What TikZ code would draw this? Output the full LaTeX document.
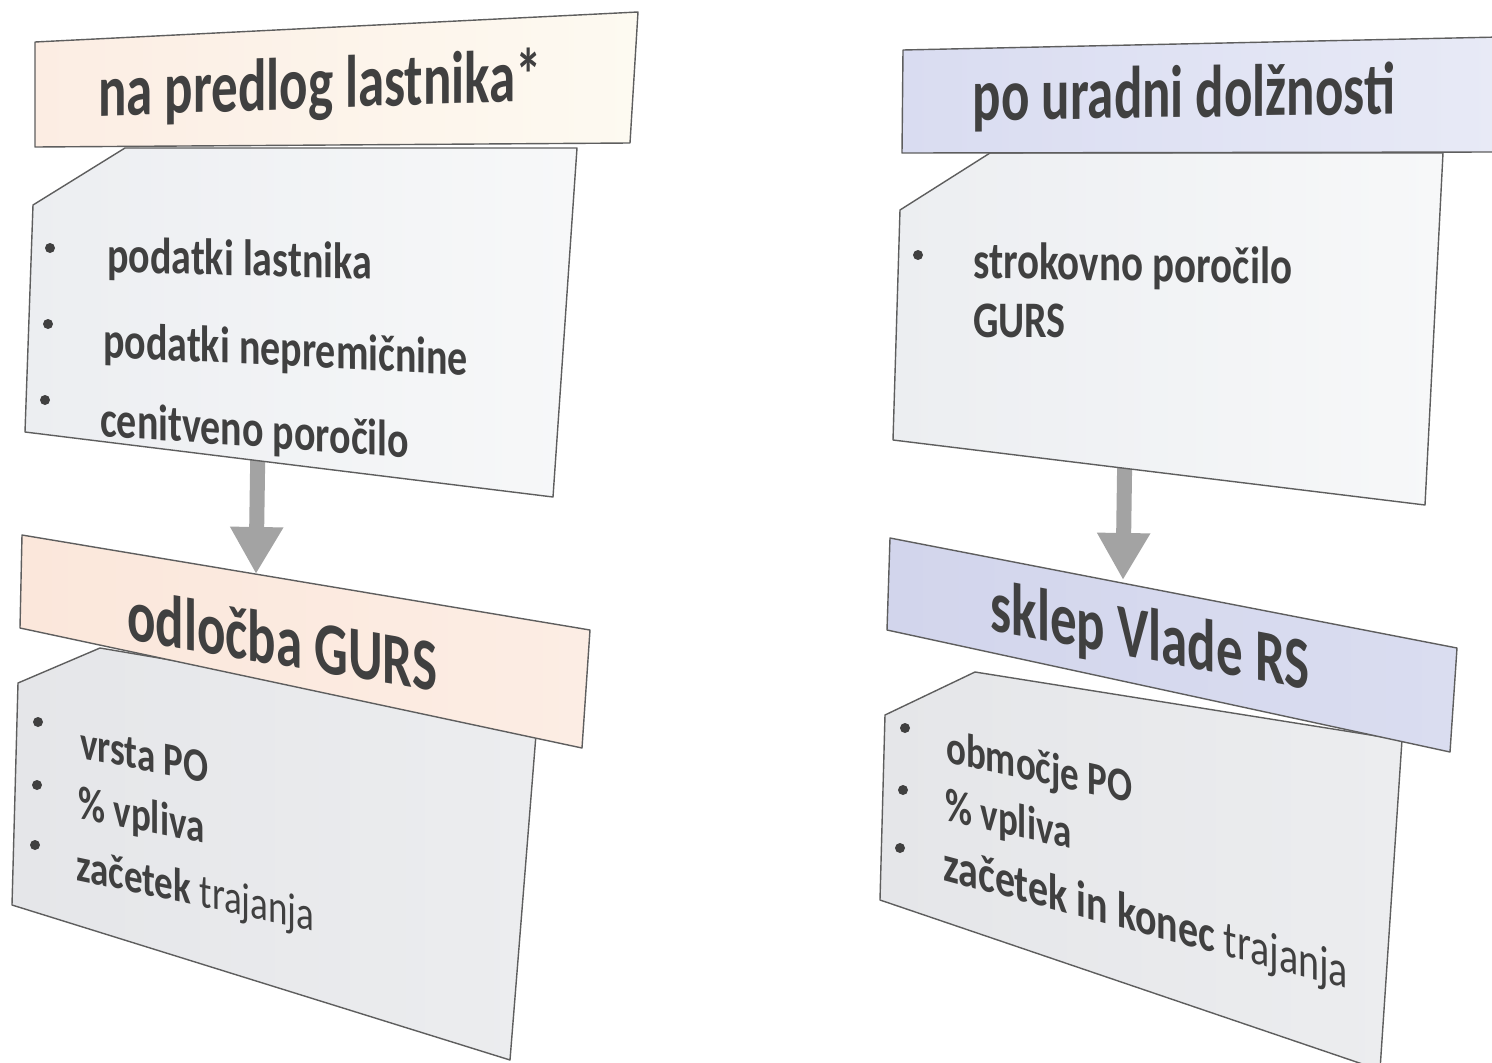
\documentclass[tikz,border=0pt]{standalone}
\usepackage{fontspec}
\setmainfont{Carlito}
\usetikzlibrary{arrows.meta}
\definecolor{txt}{HTML}{404040}
\definecolor{edge}{HTML}{5E5E5E}
\definecolor{arrowgray}{HTML}{A3A3A3}
\definecolor{bodyA}{HTML}{ECEEF1}
\definecolor{bodyB}{HTML}{F7F8F9}
\definecolor{bodyC}{HTML}{E5E6E9}
\definecolor{bodyD}{HTML}{ECEDEF}
\definecolor{peachA}{HTML}{FCEDE3}
\definecolor{peachB}{HTML}{FDFAF1}
\definecolor{peachC}{HTML}{FBE7DB}
\definecolor{peachD}{HTML}{FCEDE4}
\definecolor{lavA}{HTML}{D9DCF1}
\definecolor{lavB}{HTML}{E8EAF6}
\definecolor{lavC}{HTML}{D2D5EC}
\definecolor{lavD}{HTML}{DADDF0}
\begin{document}
\begin{tikzpicture}[x=1pt,y=-1pt,
  panel/.style={draw=edge, line width=1.4pt, line join=round},
  hd/.style={font=\bfseries\fontsize{53}{60}\selectfont, text=txt, inner sep=0pt},
  item/.style={font=\bfseries\fontsize{40}{46}\selectfont, text=txt, inner sep=0pt, anchor=base west},
  smallitem/.style={item, font=\bfseries\fontsize{37}{42}\selectfont},
  tallhd/.style={yscale=1.4},
  tall/.style={yscale=1.28},
  dot/.style={fill=txt, draw=none},
  flow/.style={draw=arrowgray, line width=15pt, -{Triangle[width=50pt,length=47pt]}}
]
\useasboundingbox[fill=white] (0,0) rectangle (1492,1063);

% ---------- connectors (behind the panels)
\coordinate (a1s) at (258,440);
\coordinate (a1e) at (256,574);
\coordinate (a2s) at (1125,440);
\coordinate (a2e) at (1123,580);
\draw[flow] (a1s) -- (a1e);
\draw[flow] (a2s) -- (a2e);

% ---------- left column
\path[panel, left color=bodyA, right color=bodyB]
  (125,148) -- (577,148) -- (553,497) -- (25,432) -- (33,205) -- cycle;
\path[panel, left color=peachA, right color=peachB]
  (35,42) -- (638,12) -- (630,143) -- (35,147) -- cycle;
\node[hd, yslant=0.035, tallhd] (t1) at (320,88) {na predlog lastnika*};

\fill[dot] (50,248) circle (5);
\fill[dot] (48,324) circle (5);
\fill[dot] (45,400) circle (5);
\node[item, yslant=-0.027, tall] (b1a) at (107,272) {podatki lastnika};
\node[item, yslant=-0.05, tall] (b1b) at (103,357) {podatki nepremičnine};
\node[item, yslant=-0.07, tall] (b1c) at (100,436) {cenitveno poročilo};

\path[panel, left color=bodyC, right color=bodyD]
  (100,648) -- (537,722) -- (510,1060) -- (12,905) -- (18,683) -- cycle;
\path[panel, left color=peachC, right color=peachD]
  (22,535) -- (590,630) -- (582,748) -- (20,628) -- cycle;
\node[hd, yslant=-0.167, tallhd] (t2) at (282,640) {odločba GURS};

\fill[dot] (38,722) circle (5);
\fill[dot] (37,785) circle (5);
\fill[dot] (35,845) circle (5);
\node[smallitem, yslant=-0.194, tall] (b2a) at (80,758) {vrsta PO};
\node[smallitem, yslant=-0.203, tall] (b2b) at (78,818) {\% vpliva};
\node[smallitem, yslant=-0.213, tall] (b2c) at (76,880) {začetek {\mdseries trajanja}};

% ---------- right column
\path[panel, left color=bodyA, right color=bodyB]
  (990,153) -- (1443,153) -- (1425,505) -- (893,440) -- (900,210) -- cycle;
\path[panel, left color=lavA, right color=lavB]
  (903,50) -- (1500,37) -- (1500,152) -- (902,153) -- cycle;
\node[hd, yslant=0.017, tallhd] (t3) at (1184,97) {po uradni dolžnosti};

\fill[dot] (918,255) circle (5);
\node[item, yslant=-0.02, tall, font=\bfseries\fontsize{41}{46}\selectfont] (b3a) at (973,278) {strokovno poročilo};
\node[item, tall] (b3b) at (973,337) {GURS};

\path[panel, left color=bodyC, right color=bodyD]
  (975,672) -- (1402,740) -- (1380,1070) -- (880,900) -- (885,715) -- cycle;
\path[panel, left color=lavC, right color=lavD]
  (890,538) -- (1457,648) -- (1450,752) -- (887,630) -- cycle;
\node[hd, yslant=-0.185, tallhd] (t4) at (1150,640) {sklep Vlade RS};

\fill[dot] (905,728) circle (5);
\fill[dot] (903,790) circle (5);
\fill[dot] (900,848) circle (5);
\node[smallitem, yslant=-0.222, tall] (b4a) at (946,762) {območje PO};
\node[smallitem, yslant=-0.231, tall] (b4b) at (945,820) {\% vpliva};
\node[item, yslant=-0.268, tall] (b4c) at (943,880) {začetek in konec {\mdseries trajanja}};
\end{tikzpicture}
\end{document}
